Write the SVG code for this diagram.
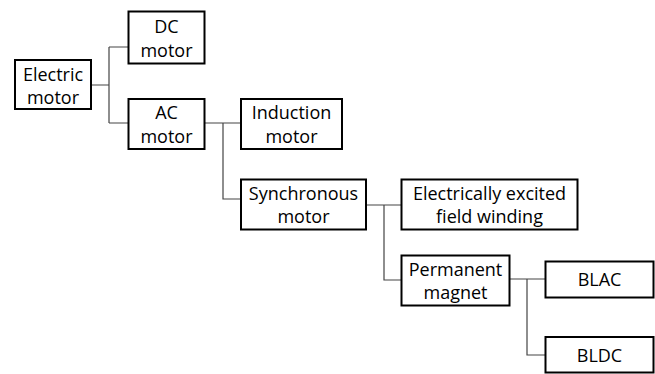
<svg xmlns="http://www.w3.org/2000/svg" width="655" height="374" viewBox="0 0 655 374">
<style>
.box{fill:#fff;stroke:#000;stroke-width:2}
.t{font-family:"Open Sans","Noto Sans",sans-serif;font-size:18px;fill:#000;text-anchor:middle}
.c{fill:none;stroke:#444;stroke-width:1.2}
</style>
<rect width="655" height="374" fill="#fff"/>
<g id="connectors">
<path class="c" d="M91,85H109M109,47V123M109,47H128M109,123H128"/>
<path class="c" d="M205,123H241M223,123V199H241"/>
<path class="c" d="M366,205H401M384,205V280H401"/>
<path class="c" d="M509,279H545M527,279V355H545"/>
</g>
<g id="electric-motor"><rect class="box" x="15" y="60" width="76" height="49"/><text class="t" x="53" y="81">Electric</text><text class="t" x="53" y="104">motor</text></g>
<g id="dc-motor"><rect class="box" x="128.5" y="11.5" width="76" height="52"/><text class="t" x="166.5" y="33">DC</text><text class="t" x="166.5" y="57">motor</text></g>
<g id="ac-motor"><rect class="box" x="128.5" y="99" width="76" height="50"/><text class="t" x="166.5" y="119">AC</text><text class="t" x="166.5" y="143">motor</text></g>
<g id="induction-motor"><rect class="box" x="241" y="99" width="101" height="50"/><text class="t" x="291.5" y="119">Induction</text><text class="t" x="291.5" y="143">motor</text></g>
<g id="synchronous-motor"><rect class="box" x="241" y="179.5" width="125" height="50"/><text class="t" x="303.5" y="200">Synchronous</text><text class="t" x="303.5" y="223">motor</text></g>
<g id="electrically-excited"><rect class="box" x="401.5" y="179.5" width="176" height="50"/><text class="t" x="489.5" y="200">Electrically excited</text><text class="t" x="489.5" y="223">field winding</text></g>
<g id="permanent-magnet"><rect class="box" x="401.5" y="255.5" width="108" height="50"/><text class="t" x="455.5" y="276">Permanent</text><text class="t" x="455.5" y="299">magnet</text></g>
<g id="blac"><rect class="box" x="545.5" y="261.5" width="108" height="36"/><text class="t" x="599.5" y="286">BLAC</text></g>
<g id="bldc"><rect class="box" x="545.5" y="337" width="108" height="35.5"/><text class="t" x="599.5" y="362">BLDC</text></g>
</svg>
